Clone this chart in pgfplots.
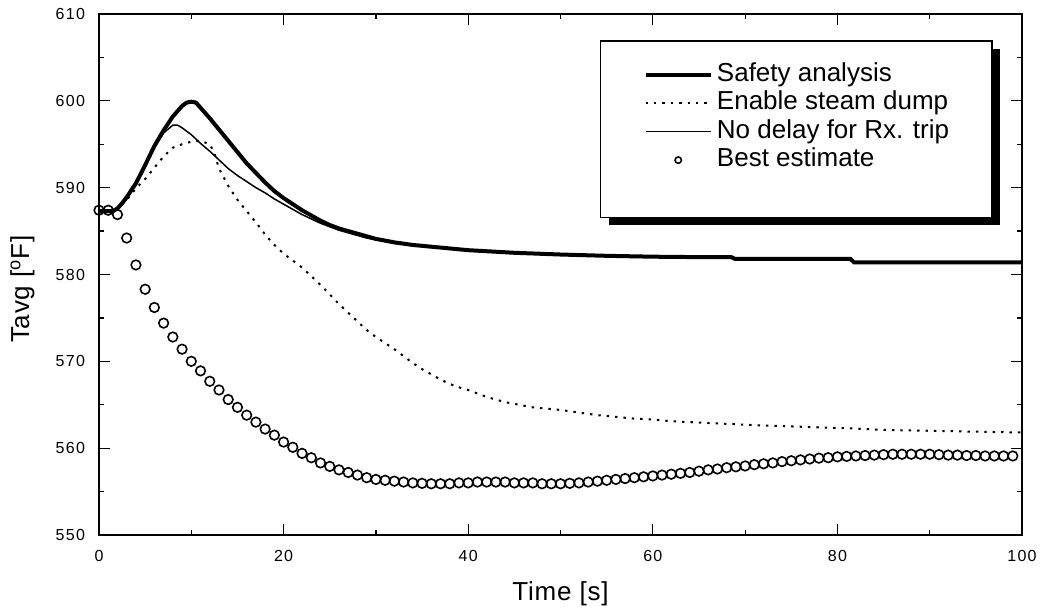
\documentclass[border=0pt]{standalone}
\usepackage{fontspec}
\setmainfont{Liberation Sans}
\usepackage{pgfplots}
\pgfplotsset{compat=1.18}
\begin{document}
\begin{tikzpicture}
\begin{axis}[
  name=ax,
  scale only axis,
  width=461.5pt, height=260.5pt,
  xmin=0, xmax=100, ymin=550, ymax=610,
  xtick={0,20,...,100}, minor xtick={10,30,...,90},
  ytick={550,560,...,610}, minor ytick={555,565,...,605},
  tick pos=both, tick align=inside,
  major tick length=5.5pt, minor tick length=2.5pt,
  every tick/.style={black, line width=0.6pt},
  axis line style={line width=1pt},
  /pgf/number format/assume math mode=true,
  ticklabel style={font=\fontsize{8}{9}\selectfont\addfontfeatures{LetterSpace=8}},
  xticklabel style={yshift=-4pt},
  yticklabel style={xshift=-3.5pt},
  xlabel={Time [s]},
  ylabel={Tavg [\textsuperscript{o}F]},
  label style={font=\fontsize{13}{15}\selectfont\addfontfeatures{LetterSpace=3}},
  xlabel style={at={(axis description cs:0.5,-0.113)}, anchor=center},
  ylabel style={at={(axis description cs:-0.083,0.472)}, anchor=center},
  clip=false,
  legend style={at={(axis description cs:0.583,0.918)}, anchor=north west,
    draw=none, fill=none, font=\fontsize{13}{15}\selectfont,
    row sep=0.75pt,
    nodes={text height=9pt, text depth=2.5pt, inner ysep=1pt}},
  legend cell align=left,
  legend image code/.code={\draw[mark repeat=2,mark phase=2,#1] plot coordinates {(0cm,0cm) (0.575cm,0cm) (1.15cm,0cm)};},
]
% legend frame with shadow
\fill[black] (axis description cs:0.552,0.595) rectangle (axis description cs:0.9765,0.933);
\draw[fill=white, line width=0.6pt] (axis description cs:0.543,0.61) rectangle (axis description cs:0.9675,0.948);

\addplot[black, line width=2pt] coordinates {
(0,587.3) (1,587.3) (1.5,587.3) (2,587.6) (2.5,588.2) (3,588.9) (4,590.5) (5,592.6)
(6,594.8) (7,596.6) (8,598.2) (9,599.4) (9.5,599.8) (10,599.9) (10.5,599.8) (11,599.2)
(12,598.0) (13,596.7) (14,595.4) (15,594.1) (16,592.8) (17,591.7) (18,590.6) (19,589.6)
(20,588.8) (21,588.1) (22,587.4) (23,586.8) (24,586.2) (25,585.7) (26,585.3) (27,585.0)
(28,584.7) (29,584.4) (30,584.1) (32,583.7) (34,583.4) (36,583.2) (38,583.0) (40,582.8)
(45,582.5) (50,582.3) (55,582.15) (60,582.05) (65,582.0) (68.5,582.0) (68.9,581.8)
(81.4,581.8) (81.8,581.4) (90,581.4) (100,581.4)
};
\addlegendentry{Safety analysis}

\addplot[black, line width=1pt, dash pattern=on 1.2pt off 3pt] coordinates {
(0,587.3) (2,587.5) (3,588.6) (4,589.9) (5,591.0) (6,592.3) (7,593.6) (8,594.6) (9,595.0)
(10,595.3) (11,595.4) (12,595.0) (12.5,594.0) (13,592.2) (14,590.2) (15,588.6) (16,587.3)
(17,586.0) (18,584.6) (19,583.4) (20,582.4) (21,581.6) (22,580.8) (23,579.8) (24,578.8)
(25,577.7) (26,576.6) (27,575.6) (28,574.6) (29,573.6) (30,572.8) (31,572.1) (32,571.4)
(33,570.6) (34,569.8) (35,569.1) (36,568.5) (37,567.9) (38,567.4) (39,567.0) (40,566.7)
(41,566.3) (42,565.9) (43,565.6) (44,565.3) (45,565.1) (46,564.9) (47,564.7) (48,564.6)
(49,564.5) (50,564.4) (52,564.1) (54,563.8) (56,563.6) (58,563.4) (60,563.3) (62,563.1)
(64,563.0) (66,562.9) (68,562.8) (70,562.7) (72,562.6) (75,562.5) (78,562.4) (81,562.3)
(85,562.1) (90,562.0) (95,561.9) (100,561.8)
};
\addlegendentry{Enable steam dump}

\addplot[black, line width=0.75pt] coordinates {
(0,587.3) (2,587.5) (3,588.7) (4,590.5) (5,592.6) (6,594.6) (7,596.3) (8,597.2) (8.5,597.2)
(9,596.9) (10,596.1) (11,595.1) (12,594.2) (13,593.2) (14,592.2) (15,591.4) (16,590.7)
(17,590.0) (18,589.4) (19,588.7) (20,588.1) (21,587.5) (22,586.9) (23,586.4) (24,585.9)
(25,585.5) (26,585.1) (27,584.8) (28,584.5) (29,584.2) (30,584.0) (32,583.6) (34,583.35)
(36,583.15) (38,583.0) (40,582.8) (45,582.5) (50,582.3) (55,582.15) (60,582.05)
(65,582.0) (68.5,582.0) (68.9,581.8) (81.4,581.8) (81.8,581.4) (90,581.4) (100,581.4)
};
\addlegendentry{No delay for Rx. trip}

\addplot[black, only marks, mark=o, mark size=2.4pt, mark options={line width=0.8pt},
  legend image post style={mark size=1.6pt}] coordinates {
(0,587.4) (1,587.4) (2,586.9) (3,584.2) (4,581.1) (5,578.3) (6,576.2) (7,574.4) (8,572.8)
(9,571.4) (10,570.0) (11,568.9) (12,567.7) (13,566.7) (14,565.6) (15,564.7) (16,563.8)
(17,563.0) (18,562.2) (19,561.5) (20,560.7) (21,560.1) (22,559.4) (23,558.9) (24,558.3)
(25,557.9) (26,557.5) (27,557.2) (28,556.9) (29,556.6) (30,556.4) (31,556.3) (32,556.2)
(33,556.1) (34,556.0) (35,555.95) (36,555.9) (37,555.9) (38,555.9) (39,556.0) (40,556.0)
(41,556.1) (42,556.1) (43,556.1) (44,556.1) (45,556.0) (46,556.0) (47,556.0) (48,555.9)
(49,555.9) (50,555.9) (51,555.95) (52,556.0) (53,556.1) (54,556.2) (55,556.3) (56,556.4)
(57,556.5) (58,556.6) (59,556.7) (60,556.8) (61,556.9) (62,557.0) (63,557.1) (64,557.2)
(65,557.35) (66,557.5) (67,557.6) (68,557.75) (69,557.85) (70,557.95) (71,558.1) (72,558.2)
(73,558.3) (74,558.45) (75,558.55) (76,558.65) (77,558.75) (78,558.85) (79,558.9) (80,559.0)
(81,559.05) (82,559.1) (83,559.15) (84,559.2) (85,559.25) (86,559.3) (87,559.3) (88,559.3)
(89,559.3) (90,559.3) (91,559.25) (92,559.2) (93,559.2) (94,559.15) (95,559.15) (96,559.1)
(97,559.1) (98,559.1) (99,559.1)
};
\addlegendentry{Best estimate}
\end{axis}
\pgfresetboundingbox
\path[use as bounding box] ([shift={(-49.5pt,-39pt)}]ax.south west) rectangle ([shift={(10pt,7pt)}]ax.north east);
\end{tikzpicture}
\end{document}
